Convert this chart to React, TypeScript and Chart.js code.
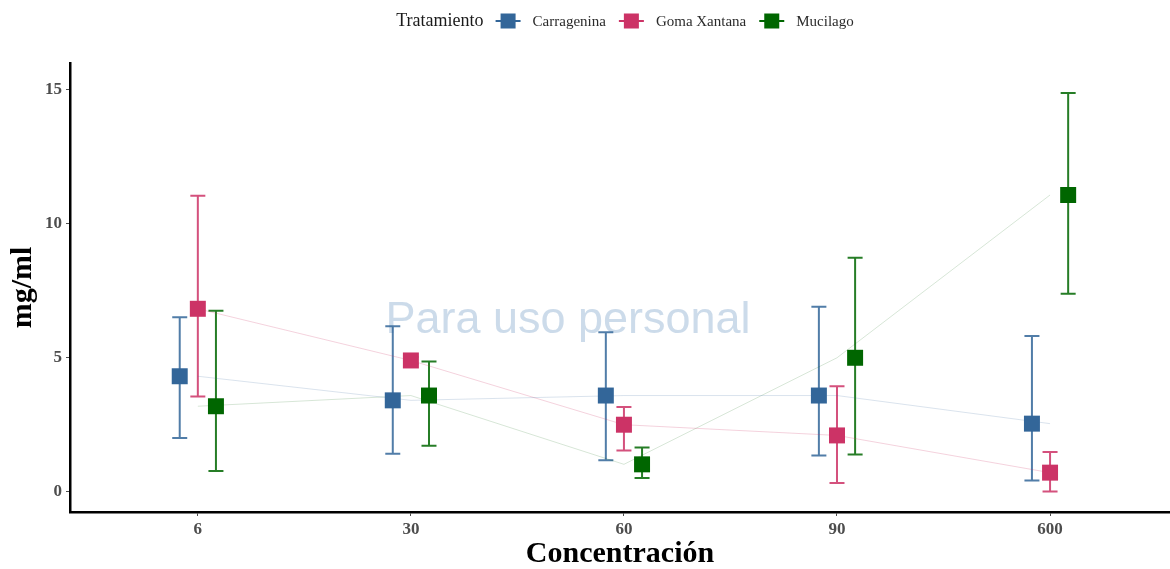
import React, { useEffect, useRef } from "react";
import { Chart, registerables } from "chart.js";

Chart.register(...registerables);

// Concentration levels on the x axis
const concentraciones = ["6", "30", "60", "90", "600"];

// Treatment series: means and error-bar limits (mg/ml)
const seriesNames = ["Carragenina", "Goma Xantana", "Mucilago"];
const seriesColors = ["#336699", "#CC3366", "#006600"];

const carrageninaMean = [4.3, 3.4, 3.58, 3.58, 2.53];
const carrageninaLow = [1.99, 1.41, 1.16, 1.34, 0.41];
const carrageninaHigh = [6.5, 6.17, 5.94, 6.9, 5.8];

const gomaMean = [6.82, 4.89, 2.49, 2.09, 0.7];
const gomaLow = [3.54, 4.76, 1.53, 0.31, 0.0];
const gomaHigh = [11.04, 5.02, 3.15, 3.93, 1.47];

const mucilagoMean = [3.18, 3.58, 1.01, 4.99, 11.07];
const mucilagoLow = [0.76, 1.7, 0.5, 1.38, 7.38];
const mucilagoHigh = [6.75, 4.85, 1.64, 8.73, 14.88];

const yTicks = [0, 5, 10, 15];

const means = [carrageninaMean, gomaMean, mucilagoMean];
const lows = [carrageninaLow, gomaLow, mucilagoLow];
const highs = [carrageninaHigh, gomaHigh, mucilagoHigh];

// Horizontal dodge of each treatment around its category
const dodge = [-0.085, 0, 0.085];

const lineAlpha = ["rgba(51,102,153,0.18)", "rgba(204,51,102,0.22)", "rgba(0,102,0,0.16)"];

const SERIF = '"Liberation Serif", "Times New Roman", serif';

const noPadding = (scale: any) => {
  scale.paddingLeft = 0;
  scale.paddingRight = 0;
  scale.paddingTop = 0;
  scale.paddingBottom = 0;
};

export default function App() {
  const canvasRef = useRef<HTMLCanvasElement | null>(null);

  useEffect(() => {
    const canvas = canvasRef.current;
    if (!canvas) return;

    const lineSets = means.map((m, s) => ({
      type: "scatter" as const,
      label: seriesNames[s] + "-linea",
      data: m.map((v, i) => ({ x: i, y: v })),
      showLine: true,
      borderColor: lineAlpha[s],
      borderWidth: 1,
      pointRadius: 0,
      order: 10,
    }));

    const pointSets = means.map((m, s) => ({
      type: "scatter" as const,
      label: seriesNames[s],
      data: m.map((v, i) => ({ x: i + dodge[s], y: v })),
      showLine: false,
      pointStyle: "rect" as const,
      pointRadius: 11.3,
      pointBorderWidth: 0,
      backgroundColor: seriesColors[s],
      borderColor: seriesColors[s],
      order: 1,
    }));

    const backgroundPlugin = {
      id: "errorbarsAndMark",
      beforeDatasetsDraw(chart: any) {
        const { ctx, scales } = chart;
        const xs = scales.x;
        const ys = scales.y;
        ctx.save();
        // watermark text
        ctx.font = '45px "Liberation Sans", Arial, sans-serif';
        ctx.fillStyle = "rgba(176,199,222,0.65)";
        ctx.textAlign = "center";
        ctx.textBaseline = "alphabetic";
        ctx.fillText("Para uso personal", 568, 333);

        // error bars
        ctx.lineWidth = 2;
        ctx.lineCap = "butt";
        means.forEach((m, s) => {
          ctx.strokeStyle = seriesColors[s];
          ctx.globalAlpha = 0.85;
          m.forEach((_, i) => {
            const px = xs.getPixelForValue(i + dodge[s]);
            const top = ys.getPixelForValue(highs[s][i]);
            const bot = ys.getPixelForValue(lows[s][i]);
            ctx.beginPath();
            ctx.moveTo(px, top);
            ctx.lineTo(px, bot);
            ctx.moveTo(px - 7.5, top);
            ctx.lineTo(px + 7.5, top);
            ctx.moveTo(px - 7.5, bot);
            ctx.lineTo(px + 7.5, bot);
            ctx.stroke();
          });
        });
        ctx.restore();
      },
      afterDraw(chart: any) {
        const { ctx } = chart;
        ctx.save();
        ctx.textBaseline = "middle";
        ctx.textAlign = "left";
        const cy = 21;
        const keyW = 25;
        const gap = 12;
        ctx.font = `18px ${SERIF}`;
        const titleW = ctx.measureText("Tratamiento").width;
        ctx.font = `15px ${SERIF}`;
        const labelWs = seriesNames.map((n) => ctx.measureText(n).width);
        let total = titleW;
        labelWs.forEach((w, i) => {
          total += gap + keyW + gap + w + (i < labelWs.length - 1 ? 1 : 0);
        });
        let x = 625 - total / 2;
        ctx.font = `18px ${SERIF}`;
        ctx.fillStyle = "#1a1a1a";
        ctx.fillText("Tratamiento", x, cy);
        x += titleW + gap;
        ctx.font = `15px ${SERIF}`;
        seriesNames.forEach((name, s) => {
          ctx.strokeStyle = seriesColors[s];
          ctx.lineWidth = 2;
          ctx.beginPath();
          ctx.moveTo(x, cy);
          ctx.lineTo(x + keyW, cy);
          ctx.stroke();
          ctx.fillStyle = seriesColors[s];
          ctx.fillRect(x + keyW / 2 - 7.5, cy - 7.5, 15, 15);
          x += keyW + gap;
          ctx.fillStyle = "#2b2b2b";
          ctx.fillText(name, x, cy + 1);
          x += labelWs[s] + gap + 1;
        });
        ctx.restore();
      },
    };

    const chart = new Chart(canvas, {
      type: "scatter",
      data: { datasets: [...lineSets, ...pointSets] as any },
      options: {
        animation: false,
        responsive: false,
        events: [],
        layout: { autoPadding: false, padding: { top: 63, left: 0, right: 0, bottom: 0 } },
        plugins: {
          legend: { display: false },
          tooltip: { enabled: false },
        },
        scales: {
          x: {
            type: "linear",
            min: -0.6,
            max: 4.563,
            afterFit: (scale: any) => {
              scale.height = 57;
              noPadding(scale);
            },
            afterBuildTicks: (scale: any) => {
              scale.ticks = concentraciones.map((_, i) => ({ value: i }));
            },
            ticks: {
              callback: (v: any) => concentraciones[Math.round(Number(v))] ?? "",
              font: { family: SERIF, size: 17, weight: "bold" },
              color: "#4d4d4d",
              padding: 3,
              maxRotation: 0,
            },
            grid: {
              display: true,
              drawOnChartArea: false,
              drawTicks: true,
              tickLength: 4,
              color: "#4d4d4d",
              lineWidth: 1,
            },
            border: { display: true, color: "#000000", width: 2.5 },
            title: {
              display: true,
              text: "Concentración",
              font: { family: SERIF, size: 30, weight: "bold", lineHeight: 1.0 },
              color: "#000000",
              padding: { top: 0, bottom: 0 },
            },
          },
          y: {
            type: "linear",
            min: -0.77,
            max: 16.0,
            afterFit: (scale: any) => {
              scale.width = 70;
              noPadding(scale);
            },
            afterBuildTicks: (scale: any) => {
              scale.ticks = yTicks.map((v) => ({ value: v }));
            },
            ticks: {
              font: { family: SERIF, size: 17, weight: "bold" },
              color: "#4d4d4d",
              padding: 4,
            },
            grid: {
              display: true,
              drawOnChartArea: false,
              drawTicks: true,
              tickLength: 4,
              color: "#4d4d4d",
              lineWidth: 1,
            },
            border: { display: true, color: "#000000", width: 2.5 },
            title: {
              display: true,
              text: "mg/ml",
              font: { family: SERIF, size: 30, weight: "bold" },
              color: "#000000",
              padding: { top: 5, bottom: 0 },
            },
          },
        },
      },
      plugins: [backgroundPlugin],
    });

    return () => chart.destroy();
  }, []);

  return (
    <div style={{ position: "fixed", left: 0, top: 0, width: 1170, height: 569, background: "#ffffff" }}>
      <canvas ref={canvasRef} width={1170} height={569} style={{ display: "block" }} />
    </div>
  );
}
